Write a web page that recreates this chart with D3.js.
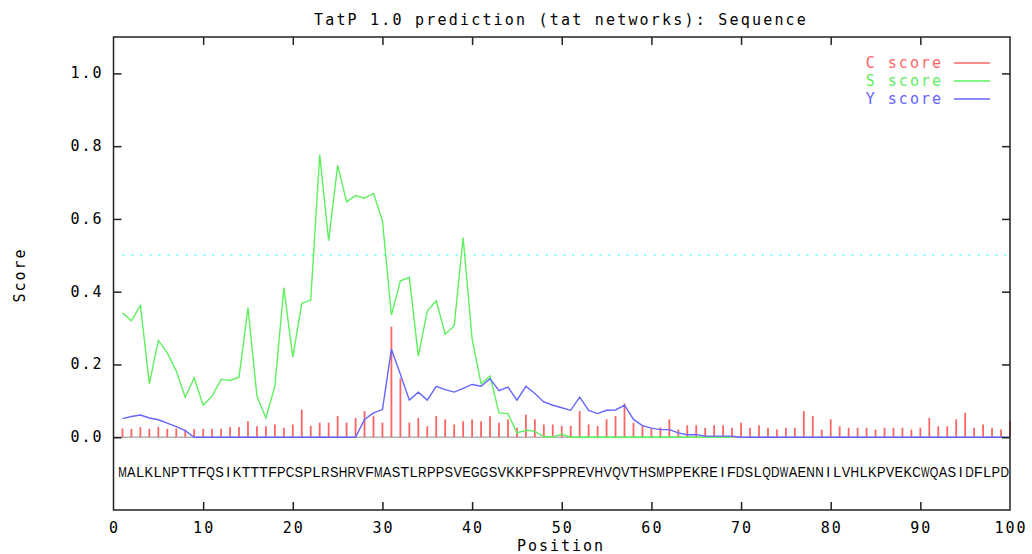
<!DOCTYPE html>
<html>
<head>
<meta charset="utf-8">
<script src="https://cdn.jsdelivr.net/npm/d3@7"></script>
<style>
body{margin:0;background:#fff;}
text{font-family:"DejaVu Sans Mono",monospace;}
</style>
</head>
<body>
<div id="plot"></div>
<script>
// scores, one value per residue position
var sequence = "MALKLNPTTFQSIKTTTFPCSPLRSHRVFMASTLRPPSVEGGSVKKPFSPPREVHVQVTHSMPPEKREIFDSLQDWAENNILVHLKPVEKCWQASIDFLPD";

var cScore = [0.024,0.023,0.028,0.023,0.028,0.023,0.024,0.021,0.023,0.023,
	0.023,0.023,0.028,0.028,0.044,0.030,0.030,0.035,0.026,0.035,
	0.076,0.031,0.040,0.040,0.058,0.040,0.053,0.072,0.058,0.040,
	0.304,0.162,0.040,0.053,0.030,0.058,0.049,0.035,0.044,0.049,
	0.044,0.058,0.040,0.049,0.026,0.062,0.049,0.035,0.035,0.031,
	0.031,0.072,0.035,0.031,0.049,0.058,0.093,0.040,0.033,0.024,
	0.027,0.049,0.021,0.033,0.033,0.026,0.033,0.033,0.026,0.040,
	0.026,0.033,0.026,0.021,0.026,0.026,0.072,0.058,0.021,0.049,
	0.030,0.026,0.026,0.026,0.021,0.026,0.026,0.026,0.021,0.026,
	0.053,0.030,0.030,0.049,0.067,0.026,0.035,0.026,0.021,0.044];

var sScore = [0.342,0.320,0.363,0.147,0.266,0.232,0.182,0.110,0.163,0.088,
	0.113,0.159,0.156,0.165,0.356,0.113,0.053,0.140,0.411,0.220,
	0.368,0.377,0.777,0.540,0.747,0.647,0.664,0.657,0.670,0.595,
	0.336,0.430,0.439,0.223,0.347,0.375,0.283,0.306,0.549,0.270,
	0.147,0.168,0.067,0.065,0.012,0.019,0.016,0.002,0.001,0.008,
	0,0,0,0,0,0,0,0,0,0,
	0,0,0,0,0,0,0,0,0];

var yScore = [0.051,0.057,0.061,0.053,0.048,0.039,0.029,0.018,0,0,
	0,0,0,0,0,0,0,0,0,0,
	0,0,0,0,0,0,0,0.049,0.067,0.076,
	0.242,0.173,0.102,0.124,0.102,0.140,0.131,0.124,0.134,0.145,
	0.140,0.161,0.128,0.138,0.102,0.140,0.120,0.097,0.088,0.081,
	0.074,0.110,0.074,0.065,0.074,0.075,0.088,0.049,0.032,0.025,
	0.021,0.021,0.012,0.007,0.007,0.003,0.003,0.003,0.003,0,
	0,0,0,0,0,0,0,0,0,0,
	0,0,0,0,0,0,0,0,0,0,
	0,0,0,0,0,0,0,0,0,0];

var xTicks = [0,10,20,30,40,50,60,70,80,90,100];
var yTicks = [0,0.2,0.4,0.6,0.8,1.0];
var cutoff = 0.5;

var legendNames = ["C score","S score","Y score"];
var legendColors = ["#ff6464","#5ff05f","#6464ff"];

var margin = {t:37,r:22,b:44,l:113.5};
var W = 1032, H = 554;
var width = W-margin.l-margin.r,
	height = H-margin.t-margin.b;

var svg = d3.select('#plot')
	.append('svg')
	.attr('width',W)
	.attr('height',H);

var plot = svg.append('g')
	.attr('transform','translate('+margin.l+','+margin.t+')');

var x = d3.scaleLinear().domain([0,100]).range([0,width]);
var y = d3.scaleLinear().domain([-0.2,1.1]).range([height,0]);

// zero line and cutoff
plot.append('line')
	.attr('x1',x(0)).attr('x2',x(100))
	.attr('y1',y(0)).attr('y2',y(0))
	.style('stroke','#b4b4b4').style('stroke-width',1.5);

plot.append('line')
	.attr('x1',x(1)).attr('x2',x(100))
	.attr('y1',y(cutoff)).attr('y2',y(cutoff))
	.style('stroke','#60ffff').style('stroke-width',1.5)
	.style('stroke-dasharray','2,7');

// C score bars
plot.selectAll('.cbar')
	.data(cScore)
	.enter()
	.append('line')
	.attr('class','cbar')
	.attr('x1',function(d,i){return x(i+1);})
	.attr('x2',function(d,i){return x(i+1);})
	.attr('y1',y(0))
	.attr('y2',function(d){return y(d);})
	.style('stroke',legendColors[0])
	.style('stroke-width',1.8);

var line = d3.line()
	.x(function(d,i){return x(i+1);})
	.y(function(d){return y(d);});

plot.append('path')
	.datum(sScore)
	.attr('d',line)
	.style('fill','none')
	.style('stroke',legendColors[1])
	.style('stroke-width',1.4);

plot.append('path')
	.datum(yScore)
	.attr('d',line)
	.style('fill','none')
	.style('stroke',legendColors[2])
	.style('stroke-width',1.4);

// frame
plot.append('rect')
	.attr('x',0).attr('y',0)
	.attr('width',width).attr('height',height)
	.style('fill','none')
	.style('stroke','#222').style('stroke-width',1.5);

// ticks on all four sides, pointing in
var inner = xTicks.slice(1,10);
plot.append('g')
	.attr('transform','translate(0,'+height+')')
	.call(d3.axisBottom(x).tickValues(inner).tickSize(-8).tickFormat(''))
	.call(function(g){g.select('.domain').remove();});
plot.append('g')
	.call(d3.axisTop(x).tickValues(inner).tickSize(-8).tickFormat(''))
	.call(function(g){g.select('.domain').remove();});
plot.append('g')
	.call(d3.axisLeft(y).tickValues(yTicks).tickSize(-8).tickFormat(''))
	.call(function(g){g.select('.domain').remove();});
plot.append('g')
	.attr('transform','translate('+width+',0)')
	.call(d3.axisRight(y).tickValues(yTicks).tickSize(-8).tickFormat(''))
	.call(function(g){g.select('.domain').remove();});
plot.selectAll('.tick line').style('stroke','#222').style('stroke-width',1.5);

// tick labels
plot.selectAll('.xlab')
	.data(xTicks)
	.enter()
	.append('text')
	.attr('x',function(d){return x(d)+1;})
	.attr('y',height+23)
	.attr('text-anchor','middle')
	.style('font-size','15px')
	.style('letter-spacing','2px')
	.text(function(d){return d;});

plot.selectAll('.ylab')
	.data(yTicks)
	.enter()
	.append('text')
	.attr('x',-10)
	.attr('y',function(d){return y(d)+5;})
	.attr('text-anchor','end')
	.style('font-size','15px')
	.style('letter-spacing','2px')
	.text(function(d){return d.toFixed(1);});

// sequence under the scores, one letter per slot
var seqX = d3.scaleLinear().domain([0,sequence.length]).range([x(0.5),x(99.9)]);
var slot = seqX(1)-seqX(0);
plot.selectAll('.res')
	.data(sequence.split(''))
	.enter()
	.append('text')
	.attr('class','res')
	.attr('transform',function(d,i){return 'translate('+seqX(i+0.5)+','+y(-0.11)+')';})
	.attr('text-anchor','middle')
	.style('font-family','"Liberation Sans",Arial,sans-serif')
	.style('font-size','14px')
	.text(function(d){return d;})
	.each(function(d,i){
		// narrow the wide letters sideways so each stays in its slot
		var w = this.getComputedTextLength();
		if(w>slot-0.3){
			d3.select(this).attr('transform',
				'translate('+seqX(i+0.5)+','+y(-0.11)+') scale('+((slot-0.3)/w)+',1)');
		}
	});

// titles
svg.append('text')
	.attr('x',561).attr('y',25)
	.attr('text-anchor','middle')
	.style('font-size','15px')
	.style('letter-spacing','2.2px')
	.text('TatP 1.0 prediction (tat networks): Sequence');

svg.append('text')
	.attr('x',561).attr('y',551)
	.attr('text-anchor','middle')
	.style('font-size','15px')
	.style('letter-spacing','2px')
	.text('Position');

svg.append('text')
	.attr('transform','translate(25,275) rotate(-90)')
	.attr('text-anchor','middle')
	.style('font-size','15px')
	.style('letter-spacing','2px')
	.text('Score');

// legend
var leg = svg.selectAll('.leg')
	.data(legendNames)
	.enter()
	.append('g')
	.attr('transform',function(d,i){return 'translate(0,'+(63+i*18)+')';});
leg.append('text')
	.attr('x',943).attr('y',5)
	.attr('text-anchor','end')
	.style('font-size','15px')
	.style('letter-spacing','2px')
	.style('fill',function(d,i){return legendColors[i];})
	.text(function(d){return d;});
leg.append('line')
	.attr('x1',954).attr('x2',990)
	.attr('y1',0).attr('y2',0)
	.style('stroke',function(d,i){return legendColors[i];})
	.style('stroke-width',1.5);
</script>
</body>
</html>
